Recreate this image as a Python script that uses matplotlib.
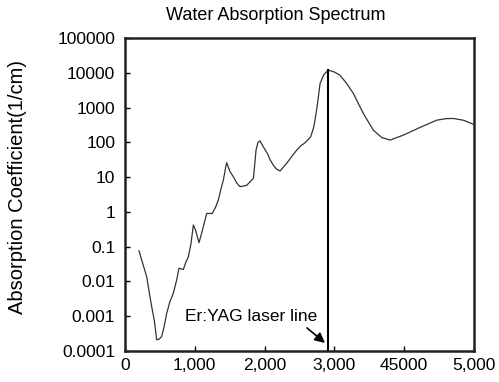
import numpy as np
import matplotlib
matplotlib.use("Agg")
import matplotlib.pyplot as plt

plt.rcParams['font.family'] = ['Liberation Sans', 'DejaVu Sans']

# wavelength (nm) and absorption coefficient (1/cm)
wavelength = [200, 260, 311, 350, 382, 420, 454, 490, 525, 560, 597, 640,
              692, 740, 774, 836, 870, 907, 945, 979, 1010, 1060, 1110,
              1170, 1251, 1300, 1337, 1380, 1409, 1440, 1457, 1500, 1552,
              1600, 1648, 1743, 1839, 1860, 1877, 1905, 1934, 1980, 2039,
              2080, 2125, 2170, 2221, 2316, 2400, 2460, 2520, 2579, 2660,
              2700, 2722, 2750, 2770, 2794, 2850, 2913, 3000, 3080, 3180,
              3271, 3414, 3557, 3677, 3797, 3987, 4226, 4465, 4600, 4704,
              4850, 4990]
absorption = [0.076, 0.03, 0.0136, 0.0045, 0.0019, 0.00075, 0.00021,
              0.00022, 0.00026, 0.0005, 0.0012, 0.0025, 0.0046, 0.011,
              0.024, 0.022, 0.035, 0.051, 0.12, 0.42, 0.3, 0.13, 0.3, 0.9,
              0.9, 1.4, 2.2, 5.0, 8.2, 18, 26, 15, 10.2, 6.8, 5.3, 5.8, 9.2,
              25, 60, 100, 110, 75, 48, 31, 22, 17, 15, 25, 42, 60, 80, 97,
              144, 260, 435, 1000, 2040, 4900, 9000, 11900, 10500, 8500,
              4800, 2540, 677, 224, 138, 116, 161, 268, 434, 480, 486, 430,
              333]

laser_x = 2913
laser_top = 11900

xticks = [0, 1000, 2000, 3000, 4000, 5000]
xtick_labels = ['0', '1,000', '2,000', '3,000', '45000', '5,000']
yticks = [1e-4, 1e-3, 1e-2, 1e-1, 1, 10, 100, 1000, 10000, 100000]
ytick_labels = ['0.0001', '0.001', '0.01', '0.1', '1', '10', '100',
                '1000', '10000', '100000']

fig = plt.figure(figsize=(4.99, 3.82), dpi=100)
ax = fig.add_axes([0.2505, 0.0812, 0.6995, 0.8193])

ax.plot(wavelength, absorption, color='#333333', lw=0.9)
ax.plot([laser_x, laser_x], [1e-4, laser_top], color='black', lw=1.5)

ax.set_yscale('log')
ax.set_xlim(0, 5000)
ax.set_ylim(1e-4, 1e5)
ax.set_xticks(xticks)
ax.set_xticklabels(xtick_labels)
ax.set_yticks(yticks)
ax.set_yticklabels(ytick_labels)
ax.yaxis.set_minor_locator(matplotlib.ticker.NullLocator())
ax.tick_params(direction='in', length=3.5, width=1, labelsize=12.5,
               colors='black')
ax.tick_params(axis='y', pad=7)
ax.tick_params(axis='x', pad=5)
for s in ax.spines.values():
    s.set_linewidth(1.8)
    s.set_color('#222222')

fig.text(276 / 499, 1 - 15 / 382, 'Water Absorption Spectrum', fontsize=13,
         ha='center', va='center')
fig.text(18 / 499, 1 - 187 / 382, 'Absorption Coefficient(1/cm)',
         fontsize=14.5, rotation=90, ha='center', va='center')

ax.text(860, 1.0e-3, 'Er:YAG laser line', fontsize=12.5, va='center')
ax.annotate('', xy=(2865, 1.7e-4), xytext=(2607, 4.6e-4),
            arrowprops=dict(arrowstyle='-|>', color='black', lw=1.2,
                            shrinkA=0, shrinkB=0, mutation_scale=15))

fig.savefig('out.png', dpi=100)
